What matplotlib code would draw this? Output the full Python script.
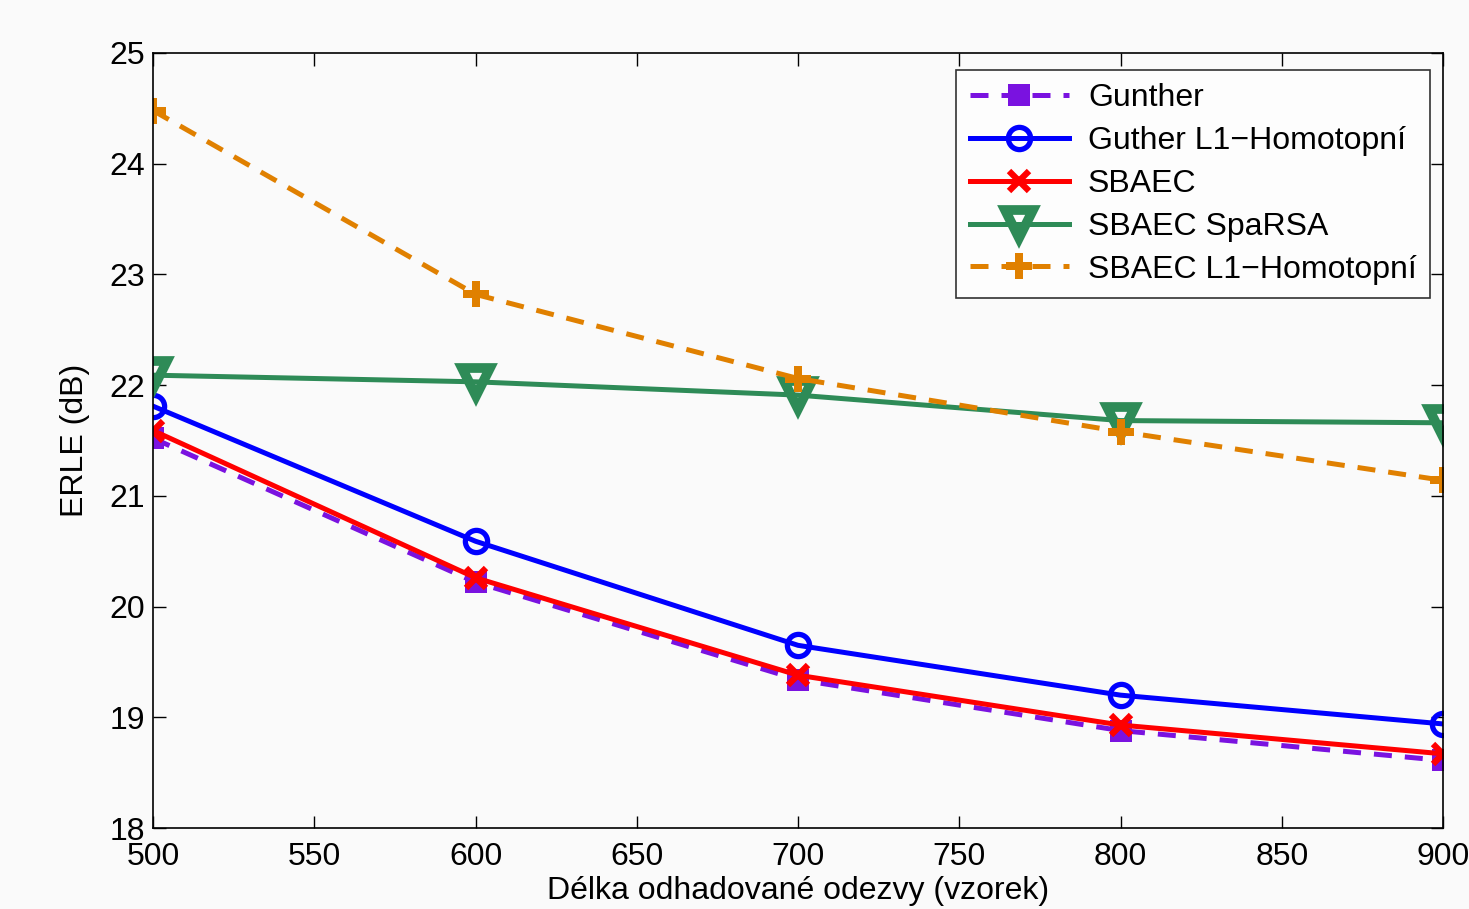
import numpy as np
import matplotlib.pyplot as plt

# délky odezvy
x = [500, 600, 700, 800, 900]

# ERLE hodnoty (dB)
gunther = [21.52, 20.22, 19.34, 18.88, 18.61]
guther_l1 = [21.81, 20.59, 19.65, 19.20, 18.94]
sbaec = [21.59, 20.26, 19.38, 18.93, 18.67]
sbaec_sparsa = [22.09, 22.03, 21.91, 21.68, 21.66]
sbaec_l1 = [24.48, 22.82, 22.06, 21.58, 21.14]

labels = ["Gunther", "Guther L1\u2212Homotopní", "SBAEC", "SBAEC SpaRSA",
          "SBAEC L1\u2212Homotopní"]

plt.rcParams['font.family'] = ['Liberation Sans', 'DejaVu Sans']

fig = plt.figure(figsize=(14.69, 9.09), dpi=100, facecolor="#fafafa")
ax = fig.add_axes([0.1042, 0.0891, 0.8781, 0.8526])
ax.set_facecolor("#fafafa")

lw = 3.6
dash = (0, (3.6, 2.6))
ax.plot(x, gunther, color="#7a12e0", linestyle=dash, linewidth=lw,
        marker="s", markersize=16, markeredgewidth=0, label=labels[0])
ax.plot(x, guther_l1, color="#0000ff", linestyle="-", linewidth=lw,
        marker="o", markersize=16, markerfacecolor="none", markeredgewidth=3.8,
        label=labels[1])
ax.plot(x, sbaec, color="#ff0000", linestyle="-", linewidth=lw,
        marker="x", markersize=14, markeredgewidth=4.5, label=labels[2])
ax.plot(x, sbaec_sparsa, color="#2e8b57", linestyle="-", linewidth=lw,
        marker="v", markersize=20, markerfacecolor="none", markeredgewidth=7,
        label=labels[3])
ax.plot(x, sbaec_l1, color="#e08000", linestyle=dash, linewidth=lw,
        marker="P", markersize=19, markeredgewidth=0, label=labels[4])

ax.set_xlim(500, 900)
ax.set_ylim(18, 25)
ax.set_xticks(np.arange(500, 901, 50))
ax.set_yticks(np.arange(18, 26, 1))
ax.tick_params(direction="in", top=True, right=True, length=9, width=1,
               labelsize=23)
ax.tick_params(axis="x", pad=10)
ax.tick_params(axis="y", pad=6)
for s in ax.spines.values():
    s.set_linewidth(1.2)

ax.set_xlabel("Délka odhadované odezvy (vzorek)", fontsize=23, labelpad=3)
ax.set_ylabel("ERLE (dB)", fontsize=23, labelpad=14)

leg = ax.legend(loc="upper right", bbox_to_anchor=(0.990, 0.978), fontsize=23,
                frameon=True, fancybox=False, edgecolor="black",
                borderaxespad=0, handlelength=3.1, borderpad=0.42,
                labelspacing=0.4, handletextpad=0.6)
leg.get_frame().set_linewidth(1.2)
leg.get_frame().set_facecolor("white")

fig.savefig("out.png", dpi=100, facecolor=fig.get_facecolor())
